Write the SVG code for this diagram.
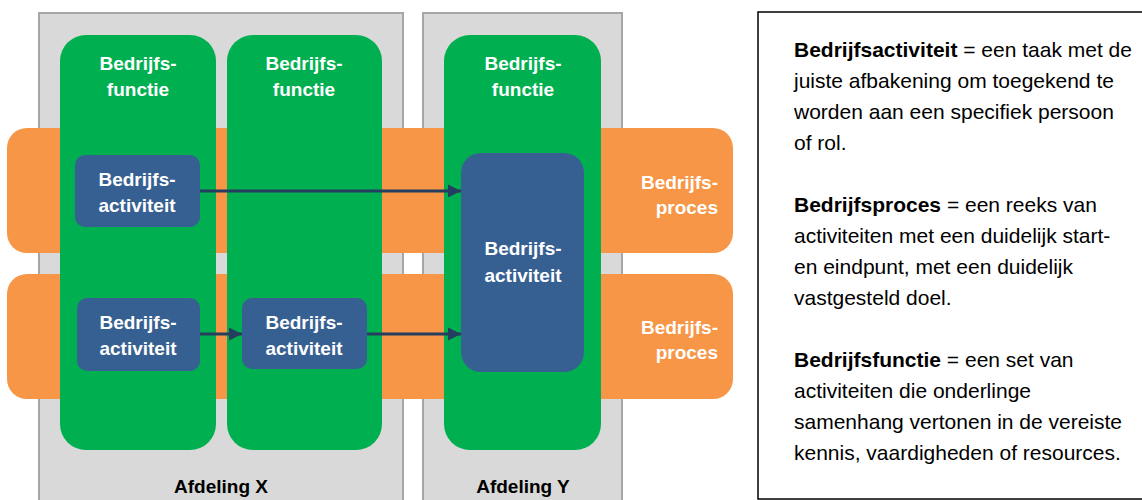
<svg xmlns="http://www.w3.org/2000/svg" width="1142" height="500" viewBox="0 0 1142 500">
<defs>
<style>
.dept{fill:#d9d9d9;stroke:#a6a6a6;stroke-width:2}
.proc{fill:#f79646}
.func{fill:#00b050}
.act{fill:#376092}
.lbl{font-family:"Liberation Sans",Arial,sans-serif;font-weight:bold;font-size:19px;fill:#ffffff}
.dlbl{font-family:"Liberation Sans",Arial,sans-serif;font-weight:bold;font-size:19px;fill:#000000}
.conn{stroke:#253d5e;stroke-width:3;fill:none}
.def{font-family:"Liberation Sans",Arial,sans-serif;font-size:21px;fill:#000000}
</style>
<marker id="arr" markerUnits="userSpaceOnUse" markerWidth="14" markerHeight="14" viewBox="0 0 14 14" refX="13" refY="7" orient="auto">
<path d="M0,0.5 L13,7 L0,13.5 Z" fill="#253d5e"/>
</marker>
</defs>
<rect width="1142" height="500" fill="#ffffff"/>

<g id="afdeling-x">
<rect class="dept" x="39" y="13" width="364" height="492"/>
<text class="dlbl" x="221" y="493" text-anchor="middle">Afdeling X</text>
</g>
<g id="afdeling-y">
<rect class="dept" x="423" y="13" width="199" height="492"/>
<text class="dlbl" x="523" y="493" text-anchor="middle">Afdeling Y</text>
</g>

<g id="proces-1">
<rect class="proc" x="7" y="128" width="726" height="125" rx="20"/>
</g>
<g id="proces-2">
<rect class="proc" x="7" y="274" width="726" height="125" rx="20"/>
</g>

<g id="functie-1">
<rect class="func" x="60" y="35" width="156" height="415" rx="26"/>
<text class="lbl" x="138" y="70" text-anchor="middle">Bedrijfs-</text>
<text class="lbl" x="138" y="96" text-anchor="middle">functie</text>
</g>
<g id="functie-2">
<rect class="func" x="227" y="35" width="155" height="415" rx="26"/>
<text class="lbl" x="304" y="70" text-anchor="middle">Bedrijfs-</text>
<text class="lbl" x="304" y="96" text-anchor="middle">functie</text>
</g>
<g id="functie-3">
<rect class="func" x="444" y="35" width="157" height="415" rx="26"/>
<text class="lbl" x="523" y="70" text-anchor="middle">Bedrijfs-</text>
<text class="lbl" x="523" y="96" text-anchor="middle">functie</text>
</g>

<g id="proces-label-1">
<text class="lbl" x="718" y="189" text-anchor="end">Bedrijfs-</text>
<text class="lbl" x="718" y="214" text-anchor="end">proces</text>
</g>
<g id="proces-label-2">
<text class="lbl" x="718" y="334" text-anchor="end">Bedrijfs-</text>
<text class="lbl" x="718" y="359" text-anchor="end">proces</text>
</g>

<g id="activiteit-1">
<rect class="act" x="75" y="155" width="125" height="72" rx="10"/>
<text class="lbl" x="137" y="186" text-anchor="middle">Bedrijfs-</text>
<text class="lbl" x="137" y="212" text-anchor="middle">activiteit</text>
</g>
<g id="activiteit-2">
<rect class="act" x="77" y="298" width="123" height="73" rx="10"/>
<text class="lbl" x="138" y="329" text-anchor="middle">Bedrijfs-</text>
<text class="lbl" x="138" y="355" text-anchor="middle">activiteit</text>
</g>
<g id="activiteit-3">
<rect class="act" x="242" y="298" width="125" height="71" rx="10"/>
<text class="lbl" x="304" y="329" text-anchor="middle">Bedrijfs-</text>
<text class="lbl" x="304" y="355" text-anchor="middle">activiteit</text>
</g>
<g id="activiteit-4">
<rect class="act" x="461" y="153" width="123" height="219" rx="20"/>
<text class="lbl" x="523" y="255" text-anchor="middle">Bedrijfs-</text>
<text class="lbl" x="523" y="282" text-anchor="middle">activiteit</text>
</g>

<g id="connectors">
<line class="conn" x1="200" y1="191" x2="461" y2="191" marker-end="url(#arr)"/>
<line class="conn" x1="200" y1="334" x2="242" y2="334" marker-end="url(#arr)"/>
<line class="conn" x1="367" y1="334" x2="461" y2="334" marker-end="url(#arr)"/>
</g>

<g id="definities">
<rect x="758" y="12" width="400" height="487" fill="#ffffff" stroke="#000000" stroke-width="1.5"/>
<text class="def" x="794" y="57"><tspan font-weight="bold">Bedrijfsactiviteit</tspan> = een taak met de</text>
<text class="def" x="794" y="88">juiste afbakening om toegekend te</text>
<text class="def" x="794" y="119">worden aan een specifiek persoon</text>
<text class="def" x="794" y="150">of rol.</text>
<text class="def" x="794" y="212"><tspan font-weight="bold">Bedrijfsproces</tspan> = een reeks van</text>
<text class="def" x="794" y="243">activiteiten met een duidelijk start-</text>
<text class="def" x="794" y="274">en eindpunt, met een duidelijk</text>
<text class="def" x="794" y="305">vastgesteld doel.</text>
<text class="def" x="794" y="367"><tspan font-weight="bold">Bedrijfsfunctie</tspan> = een set van</text>
<text class="def" x="794" y="398">activiteiten die onderlinge</text>
<text class="def" x="794" y="429">samenhang vertonen in de vereiste</text>
<text class="def" x="794" y="460">kennis, vaardigheden of resources.</text>
</g>
</svg>
